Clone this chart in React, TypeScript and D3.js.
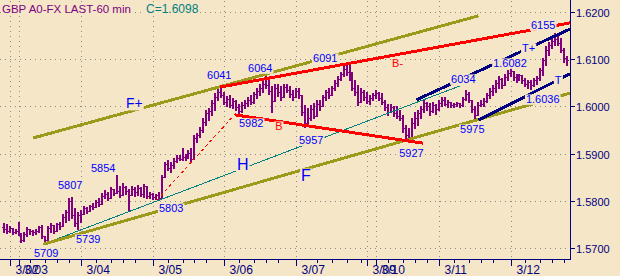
import React, { useEffect, useRef } from "react";
import * as d3 from "d3";

// ---- hourly OHLC bars (GBP A0-FX, 60 min) ----
const opens = [
1.5745,1.5740,1.5736,1.5742,1.5734,1.5736,1.5731,1.5718,1.5730,1.5740,
1.5735,1.5733,1.5737,1.5744,1.5725,1.5716,1.5742,1.5748,1.5737,1.5750,
1.5746,1.5766,1.5776,1.5800,1.5770,1.5752,1.5770,1.5772,1.5784,1.5778,
1.5788,1.5786,1.5797,1.5793,1.5810,1.5815,1.5806,1.5824,1.5816,1.5820,
1.5812,1.5830,1.5820,1.5812,1.5826,1.5818,1.5828,1.5815,1.5832,1.5810,
1.5814,1.5808,1.5812,1.5806,1.5850,1.5878,1.5870,1.5875,1.5884,1.5890,
1.5888,1.5893,1.5890,1.5902,1.5889,1.5932,1.5940,1.5950,1.5968,1.5985,
1.5990,1.6008,1.6020,1.6030,1.6025,1.6010,1.6016,1.6003,1.6012,1.5998,
1.5990,1.6003,1.6008,1.6014,1.6010,1.6026,1.6033,1.6040,1.6048,1.6045,
1.6032,1.6012,1.6040,1.6030,1.6020,1.6042,1.6035,1.6026,1.6020,1.6033,
1.6024,1.5988,1.5965,1.5975,1.5995,1.5980,1.6005,1.6000,1.6020,1.6030,
1.6024,1.6038,1.6050,1.6058,1.6068,1.6080,1.6072,1.6062,1.6040,1.6030,
1.6010,1.6030,1.6020,1.6012,1.6018,1.6024,1.6028,1.6018,1.6010,1.5998,
1.5988,1.5998,1.5985,1.5980,1.5975,1.5955,1.5940,1.5935,1.5965,1.5975,
1.5985,1.5995,1.6008,1.6000,1.5990,1.6004,1.5995,1.6008,1.6014,1.6006,
1.6010,1.6004,1.6005,1.6007,1.6003,1.6016,1.6026,1.6014,1.5995,1.5982,
1.6003,1.6006,1.6012,1.6024,1.6033,1.6040,1.6050,1.6058,1.6045,1.6062,
1.6070,1.6075,1.6062,1.6058,1.6066,1.6056,1.6048,1.6052,1.6045,1.6055,
1.6060,1.6077,1.6098,1.6120,1.6130,1.6138,1.6142,1.6135,1.6120,1.6102];

const highs = [
1.5753,1.5751,1.5747,1.5742,1.5740,1.5755,1.5731,1.5734,1.5745,1.5740,
1.5738,1.5740,1.5747,1.5749,1.5726,1.5747,1.5753,1.5748,1.5753,1.5755,
1.5772,1.5780,1.5806,1.5807,1.5785,1.5776,1.5780,1.5789,1.5787,1.5791,
1.5795,1.5802,1.5806,1.5817,1.5823,1.5819,1.5829,1.5825,1.5854,1.5831,
1.5838,1.5831,1.5825,1.5831,1.5830,1.5833,1.5829,1.5836,1.5832,1.5819,
1.5817,1.5815,1.5819,1.5855,1.5882,1.5886,1.5882,1.5891,1.5897,1.5897,
1.5912,1.5899,1.5908,1.5912,1.5939,1.5944,1.5956,1.5975,1.5992,1.5997,
1.6014,1.6028,1.6039,1.6041,1.6031,1.6022,1.6024,1.6018,1.6014,1.6005,
1.6009,1.6014,1.6020,1.6024,1.6031,1.6039,1.6048,1.6056,1.6064,1.6056,
1.6043,1.6048,1.6048,1.6043,1.6048,1.6048,1.6043,1.6035,1.6039,1.6039,
1.6024,1.6003,1.5997,1.6003,1.6007,1.6014,1.6014,1.6024,1.6035,1.6039,
1.6043,1.6056,1.6064,1.6073,1.6086,1.6091,1.6088,1.6073,1.6056,1.6045,
1.6039,1.6035,1.6031,1.6024,1.6028,1.6035,1.6031,1.6028,1.6014,1.6005,
1.6005,1.6001,1.6001,1.5992,1.5982,1.5961,1.5954,1.5975,1.5988,1.5992,
1.6001,1.6014,1.6009,1.6007,1.6009,1.6005,1.6014,1.6020,1.6020,1.6014,
1.6010,1.6007,1.6009,1.6007,1.6020,1.6034,1.6031,1.6014,1.6001,1.6009,
1.6014,1.6018,1.6028,1.6039,1.6045,1.6056,1.6064,1.6060,1.6069,1.6077,
1.6082,1.6075,1.6069,1.6069,1.6066,1.6060,1.6056,1.6056,1.6060,1.6064,
1.6082,1.6103,1.6128,1.6137,1.6145,1.6155,1.6149,1.6145,1.6124,1.6107];

const lows = [
1.5734,1.5732,1.5734,1.5730,1.5731,1.5728,1.5712,1.5714,1.5726,1.5730,
1.5727,1.5730,1.5734,1.5721,1.5709,1.5716,1.5734,1.5732,1.5737,1.5740,
1.5746,1.5755,1.5759,1.5764,1.5747,1.5740,1.5755,1.5772,1.5774,1.5778,
1.5783,1.5786,1.5789,1.5793,1.5806,1.5802,1.5806,1.5812,1.5816,1.5808,
1.5812,1.5814,1.5781,1.5812,1.5810,1.5812,1.5810,1.5808,1.5806,1.5806,
1.5804,1.5803,1.5804,1.5806,1.5850,1.5865,1.5861,1.5870,1.5882,1.5886,
1.5886,1.5886,1.5890,1.5882,1.5889,1.5925,1.5935,1.5946,1.5961,1.5971,
1.5982,1.5992,1.6014,1.6020,1.6005,1.6001,1.5999,1.5997,1.5992,1.5982,
1.5988,1.5997,1.6001,1.6005,1.6007,1.6018,1.6024,1.6031,1.6039,1.6026,
1.5988,1.6012,1.6022,1.6014,1.6020,1.6031,1.6020,1.6014,1.6020,1.6018,
1.5982,1.5957,1.5961,1.5971,1.5975,1.5980,1.5992,1.6000,1.6014,1.6018,
1.6024,1.6035,1.6043,1.6056,1.6064,1.6066,1.6056,1.6035,1.6024,1.6003,
1.6009,1.6014,1.6007,1.6005,1.6014,1.6018,1.6014,1.6005,1.5992,1.5982,
1.5988,1.5980,1.5975,1.5971,1.5946,1.5933,1.5927,1.5935,1.5954,1.5961,
1.5975,1.5988,1.5992,1.5982,1.5988,1.5984,1.5992,1.6001,1.6003,1.5999,
1.5999,1.5999,1.6001,1.5999,1.6001,1.6014,1.6009,1.5988,1.5975,1.5982,
1.6001,1.6001,1.6009,1.6018,1.6024,1.6031,1.6039,1.6039,1.6045,1.6056,
1.6064,1.6056,1.6052,1.6056,1.6050,1.6043,1.6039,1.6036,1.6043,1.6047,
1.6056,1.6066,1.6088,1.6109,1.6124,1.6130,1.6130,1.6115,1.6094,1.6088];

const closes = [
1.5740,1.5736,1.5742,1.5734,1.5736,1.5731,1.5718,1.5730,1.5740,1.5735,
1.5733,1.5737,1.5744,1.5725,1.5716,1.5742,1.5748,1.5737,1.5750,1.5746,
1.5766,1.5776,1.5800,1.5770,1.5752,1.5770,1.5772,1.5784,1.5778,1.5788,
1.5786,1.5797,1.5793,1.5810,1.5815,1.5806,1.5824,1.5816,1.5820,1.5812,
1.5830,1.5820,1.5812,1.5826,1.5818,1.5828,1.5815,1.5832,1.5810,1.5814,
1.5808,1.5812,1.5806,1.5850,1.5878,1.5870,1.5875,1.5884,1.5890,1.5888,
1.5893,1.5890,1.5902,1.5889,1.5932,1.5940,1.5950,1.5968,1.5985,1.5990,
1.6008,1.6020,1.6030,1.6025,1.6010,1.6016,1.6003,1.6012,1.5998,1.5990,
1.6003,1.6008,1.6014,1.6010,1.6026,1.6033,1.6040,1.6048,1.6045,1.6032,
1.6012,1.6040,1.6030,1.6020,1.6042,1.6035,1.6026,1.6020,1.6033,1.6024,
1.5988,1.5965,1.5975,1.5995,1.5980,1.6005,1.6000,1.6020,1.6030,1.6024,
1.6038,1.6050,1.6058,1.6068,1.6080,1.6072,1.6062,1.6040,1.6030,1.6010,
1.6030,1.6020,1.6012,1.6018,1.6024,1.6028,1.6018,1.6010,1.5998,1.5988,
1.5998,1.5985,1.5980,1.5975,1.5955,1.5940,1.5935,1.5965,1.5975,1.5985,
1.5995,1.6008,1.6000,1.5990,1.6004,1.5995,1.6008,1.6014,1.6006,1.6010,
1.6004,1.6005,1.6007,1.6003,1.6016,1.6026,1.6014,1.5995,1.5982,1.6003,
1.6006,1.6012,1.6024,1.6033,1.6040,1.6050,1.6058,1.6045,1.6062,1.6070,
1.6075,1.6062,1.6058,1.6066,1.6056,1.6048,1.6052,1.6045,1.6055,1.6060,
1.6077,1.6098,1.6120,1.6130,1.6138,1.6142,1.6135,1.6120,1.6102,1.6098];

// ---- axes ----
const priceTicks = [1.57, 1.58, 1.59, 1.6, 1.61, 1.62];
const priceTickLabels = ["1.5700", "1.5800", "1.5900", "1.6000", "1.6100", "1.6200"];
const dayLabels = ["3/02", "3/03", "3/04", "3/05", "3/06", "3/07", "3/09", "3/10", "3/11", "3/12"];
const dayStartBars = [3, 6, 27, 51, 75, 99, 123, 126, 147, 171];
const minorTickBars = [10, 15, 19, 23, 32, 37, 41, 45, 56, 61, 65, 69, 80, 85, 89, 93,
  106, 111, 116, 121, 130, 135, 139, 143, 152, 157, 161, 165, 176, 181, 185, 189];

// ---- trend lines: [bar, price] end points ----
const channelUpperF = [[10.2, 1.5933], [159.6, 1.6192]];
const channelLowerF = [[13.6, 1.5708], [190.3, 1.6028]];
const lineH = [[13.6, 1.5708], [153.2, 1.6043]];
const lineBUpper = [[73.0, 1.6041], [190.3, 1.6177]];
const lineBLower = [[78.0, 1.5982], [141.0, 1.5922]];
const lineDashed = [[51.8, 1.5802], [78.3, 1.5986]];
const lineTUpper = [[138.8, 1.6014], [190.3, 1.6164]];
const lineTLower = [[159.6, 1.5971], [190.3, 1.6069]];

// ---- annotations: text, anchor bar, anchor price (left / baseline) ----
const noteTexts = ["5709", "5739", "5807", "5854", "5803", "6041", "6064", "6091", "5982", "B",
  "5957", "H", "F", "F+", "B-", "5927", "6034", "5975", "1.6082", "1.6036", "T+", "T", "6155"];
const noteBars = [10.53, 24.61, 18.58, 29.64, 52.45, 68.55, 82.3, 104.1, 79.28, 91.4,
  99.4, 78.6, 100.1, 41.4, 130.6, 133.0, 150.4, 153.4, 164.5, 175.5, 174.2, 185.2, 177.2];
const notePrices = [1.56809, 1.57106, 1.5825, 1.5861, 1.57763, 1.6057, 1.60729, 1.60941, 1.59564, 1.595,
  1.59203, 1.58653, 1.58419, 1.59966, 1.60835, 1.58928, 1.60496, 1.59436, 1.60835, 1.60072, 1.61153, 1.60475, 1.6164];

const titleText = "GBP A0-FX LAST-60 min";
const lastCloseText = "C=1.6098";

const BG = "#F5E6C8";
const FONT = "'Liberation Sans', Arial, sans-serif";

export default function App() {
  const ref = useRef<SVGSVGElement>(null);

  useEffect(() => {
    const svg = d3.select(ref.current);
    svg.selectAll("*").remove();
    const W = 620, H = 276;
    const axisX = 570, axisY = 259;
    const x = d3.scaleLinear().domain([0, 190]).range([1.11, 1.11 + 2.982 * 190]);
    const y = d3.scaleLinear().domain([1.57, 1.62]).range([248, 12]);

    svg.append("rect").attr("width", W).attr("height", H).attr("fill", BG);

    // grid
    const grid = svg.append("g").attr("stroke", "#8a8a8a").attr("stroke-dasharray", "1,4").attr("shape-rendering", "crispEdges");
    priceTicks.forEach((p) => {
      const yy = Math.round(y(p)) + 0.5;
      grid.append("line").attr("x1", 0).attr("x2", axisX).attr("y1", yy).attr("y2", yy);
    });
    dayStartBars.forEach((b) => {
      const xx = Math.floor(x(b)) + 0.5;
      grid.append("line").attr("x1", xx).attr("x2", xx).attr("y1", 1).attr("y2", axisY);
    });

    // bars
    const bars = svg.append("g").attr("fill", "#800080").attr("shape-rendering", "crispEdges");
    closes.forEach((c, i) => {
      const px = Math.round(x(i + 0.5));
      const yh = Math.round(y(highs[i]));
      const yl = Math.round(y(lows[i]));
      bars.append("rect").attr("x", px).attr("y", yh).attr("width", 2).attr("height", Math.max(1, yl - yh + 1));
      bars.append("rect").attr("x", px - 1).attr("y", Math.round(y(opens[i]))).attr("width", 1).attr("height", 1);
      bars.append("rect").attr("x", px + 2).attr("y", Math.round(y(c))).attr("width", 1).attr("height", 1);
    });

    // trend lines
    const line = d3.line<number[]>().x((d) => x(d[0] + 0.5)).y((d) => y(d[1]));
    const tl = svg.append("g").attr("fill", "none").attr("shape-rendering", "crispEdges");
    const drawLine = (pts: number[][], color: string, w: number, dash?: string) => {
      const p = tl.append("path").attr("d", line(pts)).attr("stroke", color).attr("stroke-width", w);
      if (dash) p.attr("stroke-dasharray", dash);
    };
    drawLine(lineH, "#008080", 1);
    drawLine(channelUpperF, "#9C9A1A", 3);
    drawLine(channelLowerF, "#9C9A1A", 3);
    drawLine(lineDashed, "#FF0000", 1, "3,3");
    drawLine(lineBUpper, "#FF0000", 3);
    drawLine(lineBLower, "#FF0000", 3);
    drawLine(lineTUpper, "#000080", 3);
    drawLine(lineTLower, "#000080", 3);

    // axes
    const ax = svg.append("g").attr("shape-rendering", "crispEdges");
    ax.append("line").attr("x1", axisX + 0.5).attr("x2", axisX + 0.5).attr("y1", 0).attr("y2", axisY + 1).attr("stroke", "#000080");
    ax.append("line").attr("x1", 0).attr("x2", axisX + 1).attr("y1", axisY + 0.5).attr("y2", axisY + 0.5).attr("stroke", "#000080");
    priceTicks.forEach((p, k) => {
      const yy = Math.round(y(p)) + 0.5;
      ax.append("line").attr("x1", axisX).attr("x2", axisX + 5).attr("y1", yy).attr("y2", yy).attr("stroke", "#000080");
      svg.append("text").attr("x", axisX + 6).attr("y", yy + 4).attr("font-family", FONT).attr("font-size", 11)
        .attr("fill", "#000080").text(priceTickLabels[k]);
    });
    dayStartBars.forEach((b, k) => {
      const xx = Math.floor(x(b)) + 0.5;
      ax.append("line").attr("x1", xx).attr("x2", xx).attr("y1", axisY).attr("y2", axisY + 7).attr("stroke", "#000080");
      svg.append("text").attr("x", xx + 5).attr("y", 274).attr("font-family", FONT).attr("font-size", 12)
        .attr("fill", "#000080").text(dayLabels[k]);
    });
    minorTickBars.forEach((b) => {
      const xx = Math.floor(x(b)) + 0.5;
      ax.append("line").attr("x1", xx).attr("x2", xx).attr("y1", axisY).attr("y2", axisY + 4).attr("stroke", "#000080");
    });

    // labels with background boxes
    const addLabel = (tx: number, ty: number, txt: string, color: string, size: number) => {
      const g = svg.append("g");
      const r = g.append("rect").attr("fill", BG);
      const t = g.append("text").attr("x", tx).attr("y", ty).attr("font-family", FONT)
        .attr("font-size", size).attr("fill", color).text(txt);
      const bb = (t.node() as SVGTextElement).getBBox();
      const top = ty - size * 0.78;
      r.attr("x", bb.x - 1).attr("y", top).attr("width", bb.width + 2).attr("height", size * 0.95);
    };
    noteTexts.forEach((txt, k) => {
      const red = txt === "B" || txt === "B-";
      const big = txt === "H" || txt === "F";
      const mid = txt === "F+";
      addLabel(x(noteBars[k] + 0.5), y(notePrices[k]), txt, red ? "#FF0000" : "#0000FF", big ? 16 : mid ? 14 : 11);
    });

    // title
    addLabel(2, 13, titleText, "#800080", 11.5);
    addLabel(146, 13, lastCloseText, "#008080", 12);
  }, []);

  return (
    <div style={{ position: "absolute", left: 0, top: 0 }}>
      <svg ref={ref} width={620} height={276} style={{ display: "block" }} />
    </div>
  );
}
